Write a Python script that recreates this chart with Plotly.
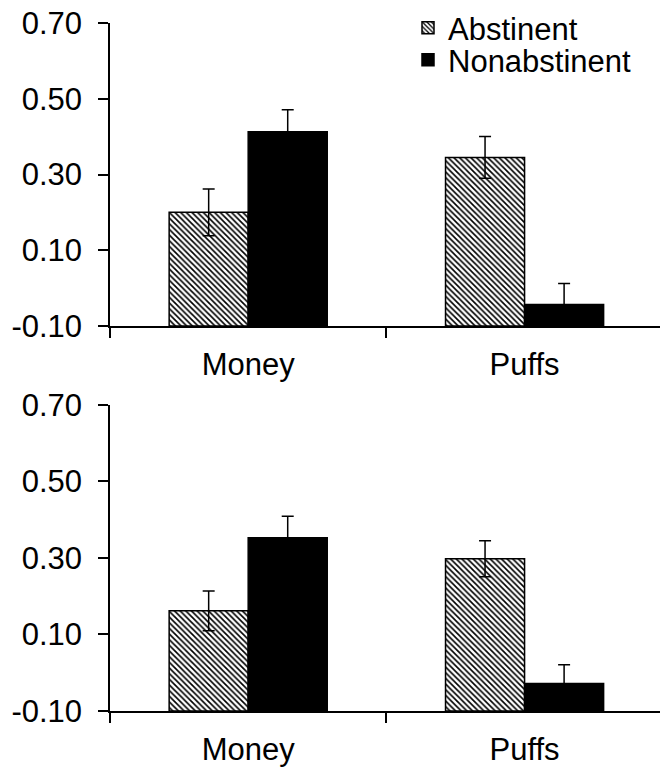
import plotly.graph_objects as go

categories = ["Money", "Puffs"]
series_names = ["Abstinent", "Nonabstinent"]

top_abstinent = [0.20, 0.345]
top_abstinent_err = [0.062, 0.055]
top_nonabstinent = [0.413, -0.043]
top_nonabstinent_err = [0.058, 0.055]

bottom_abstinent = [0.162, 0.298]
bottom_abstinent_err = [0.052, 0.047]
bottom_nonabstinent = [0.353, -0.028]
bottom_nonabstinent_err = [0.056, 0.049]

y_tickvals = [-0.10, 0.10, 0.30, 0.50, 0.70]
y_ticktext = ["-0.10", "0.10", "0.30", "0.50", "0.70"]
BASELINE = -0.10

FONT = "Liberation Sans, Arial, sans-serif"
FS = 31

fig = go.Figure()

def add_pair(abst, abst_err, nonab, nonab_err, xa, ya, show):
    fig.add_trace(go.Bar(
        x=categories, y=[v - BASELINE for v in abst], base=BASELINE,
        name=series_names[0], xaxis=xa, yaxis=ya,
        marker=dict(color="white", line=dict(color="black", width=1.5),
                    pattern=dict(shape="\\", fgcolor="black", bgcolor="white", size=4, solidity=0.4)),
        error_y=dict(type="data", array=abst_err, color="black", thickness=1.5, width=6),
        showlegend=show, legend="legend"))
    fig.add_trace(go.Bar(
        x=categories, y=[v - BASELINE for v in nonab], base=BASELINE,
        name=series_names[1], xaxis=xa, yaxis=ya,
        marker=dict(color="black", line=dict(color="black", width=1.5)),
        error_y=dict(type="data", array=nonab_err, color="black", thickness=1.5, width=6),
        showlegend=show, legend="legend2"))

add_pair(top_abstinent, top_abstinent_err, top_nonabstinent, top_nonabstinent_err, "x", "y", True)
add_pair(bottom_abstinent, bottom_abstinent_err, bottom_nonabstinent, bottom_nonabstinent_err, "x2", "y2", False)

xaxis_common = dict(
    type="category", range=[-0.5, 1.49], showline=True, linecolor="black", linewidth=1.5,
    ticks="outside", tickson="boundaries", ticklen=10, tickwidth=1.5, tickcolor="black",
    showgrid=False, zeroline=False, automargin=False, ticklabelstandoff=10,
    tickfont=dict(family=FONT, size=FS, color="black"),
)
yaxis_common = dict(
    range=[-0.10, 0.70], tickvals=y_tickvals, ticktext=y_ticktext, showline=True,
    linecolor="black", linewidth=1.5, ticks="outside", ticklen=10, tickwidth=1.5,
    tickcolor="black", showgrid=False, zeroline=False, automargin=False, ticklabelstandoff=10,
    tickfont=dict(family=FONT, size=FS, color="black"),
)

top_dom = [0.5596, 1.0]
bot_dom = [0.0, 0.4448]

legend_common = dict(xref="container", yref="container", xanchor="left", yanchor="middle",
                     bgcolor="rgba(0,0,0,0)", borderwidth=0,
                     font=dict(family=FONT, size=FS, color="black"))

fig.update_layout(
    template="none",
    width=660, height=768,
    margin=dict(l=110, r=0, t=23, b=57, autoexpand=False),
    paper_bgcolor="white", plot_bgcolor="white",
    barmode="group", bargap=0.428, bargroupgap=0,
    font=dict(family=FONT, size=FS, color="black"),
    xaxis=dict(**xaxis_common, anchor="y"),
    yaxis=dict(**yaxis_common, domain=top_dom, anchor="x"),
    xaxis2=dict(**xaxis_common, anchor="y2"),
    yaxis2=dict(**yaxis_common, domain=bot_dom, anchor="x2"),
    legend=dict(**legend_common, x=408/660, y=1 - 28/768),
    legend2=dict(**legend_common, x=408/660, y=1 - 60/768),
    showlegend=True,
)

fig.write_html("out.html", config={"displayModeBar": False},
               post_script="document.body.style.margin='0px';document.body.style.padding='0px';")
